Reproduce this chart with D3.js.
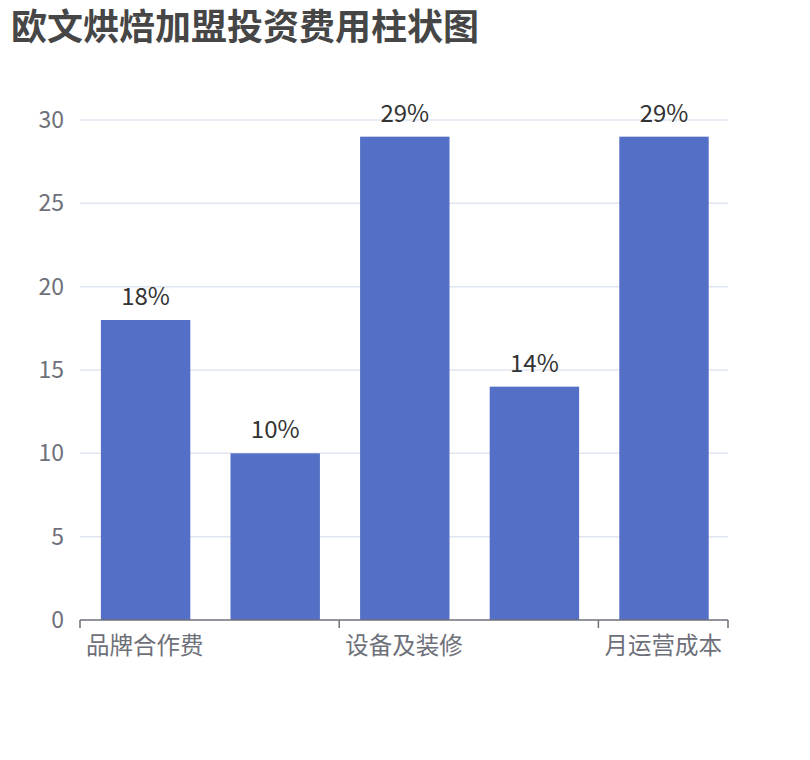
<!DOCTYPE html>
<html>
<head>
<meta charset="utf-8">
<script src="https://cdn.jsdelivr.net/npm/d3@7"></script>
<style>
  body { margin: 0; background: #fff; }
  svg { display: block; font-family: "Noto Sans CJK SC", "Noto Sans", sans-serif; }
</style>
</head>
<body>
<script>
var categories = ["品牌合作费", "店面租金", "设备及装修", "人员工资", "月运营成本"];
var values = [18, 10, 29, 14, 29];
var valueLabels = ["18%", "10%", "29%", "14%", "29%"];
var yTicks = [0, 5, 10, 15, 20, 25, 30];

var w = 810;
var h = 760;
var plotLeft = 80, plotRight = 728, plotTop = 120, plotBottom = 620;

var svg = d3.select("body").append("svg")
    .attr("width", w)
    .attr("height", h);

svg.append("text")
  .attr("x", 11)
  .attr("y", 40)
  .attr("font-size", "36px")
  .attr("font-weight", "bold")
  .attr("fill", "#464646")
  .text("欧文烘焙加盟投资费用柱状图");

var x = d3.scaleBand().domain(categories).range([plotLeft, plotRight]).padding(0);
var y = d3.scaleLinear().domain([0, 30]).range([plotBottom, plotTop]);
var barW = x.bandwidth() * 0.69;

// grid lines
svg.append("g").selectAll("line")
  .data(yTicks.filter(function(d) { return d > 0; }))
  .enter().append("line")
  .attr("x1", plotLeft).attr("x2", plotRight)
  .attr("y1", function(d) { return y(d); })
  .attr("y2", function(d) { return y(d); })
  .attr("stroke", "#E0E6F1")
  .attr("stroke-width", 1.5);

// y labels
svg.append("g").selectAll("text")
  .data(yTicks)
  .enter().append("text")
  .attr("x", plotLeft - 16)
  .attr("y", function(d) { return y(d); })
  .attr("dy", "0.35em")
  .attr("text-anchor", "end")
  .attr("font-size", "23px")
  .attr("fill", "#6E7079")
  .text(function(d) { return d; });

// bars
svg.append("g").selectAll("rect")
  .data(values)
  .enter().append("rect")
  .attr("x", function(d, i) { return x(categories[i]) + (x.bandwidth() - barW) / 2 + 0.8; })
  .attr("y", function(d) { return y(d); })
  .attr("width", barW)
  .attr("height", function(d) { return plotBottom - y(d); })
  .attr("fill", "#5470C6");

// value labels
svg.append("g").selectAll("text")
  .data(values)
  .enter().append("text")
  .attr("x", function(d, i) { return x(categories[i]) + x.bandwidth() / 2 + 0.8; })
  .attr("y", function(d) { return y(d) - 15; })
  .attr("text-anchor", "middle")
  .attr("font-size", "24px")
  .attr("fill", "#333")
  .text(function(d, i) { return valueLabels[i]; });

// x axis line + ticks (every other category, like auto interval)
svg.append("line")
  .attr("x1", plotLeft).attr("x2", plotRight)
  .attr("y1", plotBottom).attr("y2", plotBottom)
  .attr("stroke", "#6E7079").attr("stroke-width", 1.5);

var tickPos = [0, 2, 4].map(function(i) { return x(categories[i]); }).concat([plotRight]);
svg.append("g").selectAll("line")
  .data(tickPos)
  .enter().append("line")
  .attr("x1", function(d) { return d; }).attr("x2", function(d) { return d; })
  .attr("y1", plotBottom).attr("y2", plotBottom + 8)
  .attr("stroke", "#6E7079").attr("stroke-width", 1.5);

svg.append("g").selectAll("text")
  .data(categories.filter(function(d, i) { return i % 2 === 0; }))
  .enter().append("text")
  .attr("x", function(d) { return x(d) + x.bandwidth() / 2; })
  .attr("y", plotBottom + 26)
  .attr("dy", "0.35em")
  .attr("text-anchor", "middle")
  .attr("font-size", "23.5px")
  .attr("fill", "#6E7079")
  .text(function(d) { return d; });
</script>
</body>
</html>
